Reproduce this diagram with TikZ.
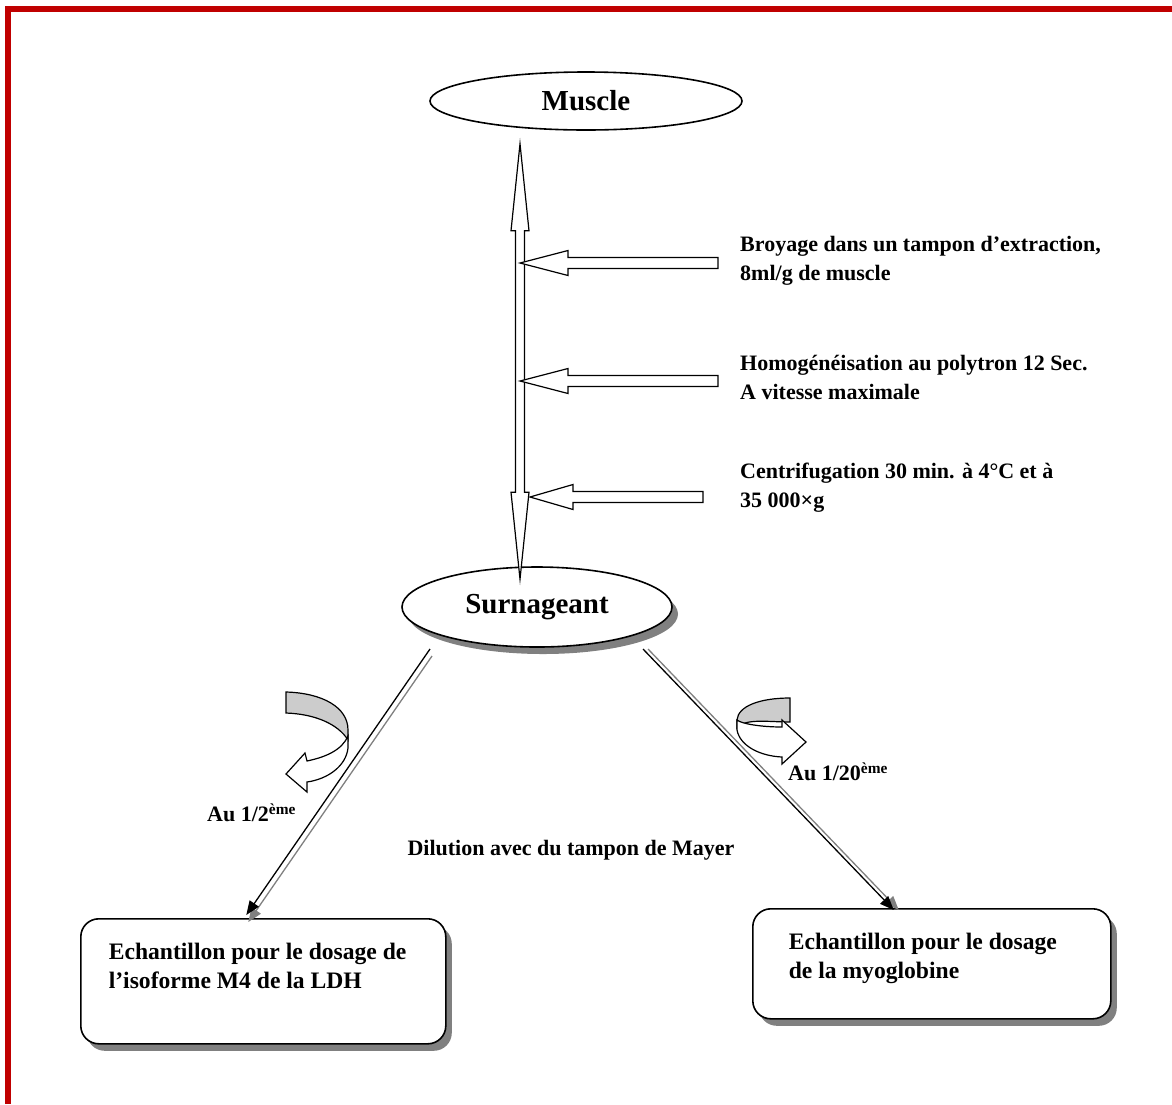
\documentclass[tikz,border=0pt]{standalone}
\usepackage{fontspec}
\setmainfont{Liberation Serif}
\usetikzlibrary{shapes.geometric,shadows,calc,arrows.meta}
\definecolor{myframered}{RGB}{192,0,0}
\definecolor{myshadowgray}{RGB}{128,128,128}
\definecolor{mybandgray}{RGB}{204,204,204}
\newcommand{\stepfont}{\fontsize{22}{29}\selectfont\bfseries}
\newcommand{\bigfont}{\fontsize{29}{34}\selectfont\bfseries}
\newcommand{\boxfont}{\fontsize{23.6}{29}\selectfont\bfseries}
% width, height, first line, second line
\newcommand{\sampletext}[4]{\parbox[c][#2][t]{#1}{\mbox{#3}\\\mbox{#4}}}
% tail, tip, half shaft, half head, head length
\newcommand{\blockarrow}[5]{
    \coordinate (ba) at ($(#2)!#5!(#1)$);
    \draw[hollow] ($(#1)!#3!90:(#2)$) -- ($(ba)!#3!-90:(#1)$) -- ($(ba)!#4!-90:(#1)$) -- (#2)
        -- ($(ba)!#4!90:(#1)$) -- ($(ba)!#3!90:(#1)$) -- ($(#1)!#3!-90:(#2)$) -- cycle;
}
% tip one, tip two, half shaft, half head, head length
\newcommand{\dblblockarrow}[5]{
    \coordinate (bb1) at ($(#1)!#5!(#2)$);
    \coordinate (bb2) at ($(#2)!#5!(#1)$);
    \draw[hollow] (#1) -- ($(bb1)!#4!90:(#2)$) -- ($(bb1)!#3!90:(#2)$) -- ($(bb2)!#3!-90:(#1)$)
        -- ($(bb2)!#4!-90:(#1)$) -- (#2) -- ($(bb2)!#4!90:(#1)$) -- ($(bb2)!#3!90:(#1)$)
        -- ($(bb1)!#3!-90:(#2)$) -- ($(bb1)!#4!-90:(#2)$) -- cycle;
}
\tikzset{
    common/.style={draw, line width=1.6pt, fill=white},
    oval/.style={common, ellipse, inner sep=0pt, font=\bigfont},
    sample/.style={common, rounded corners=18pt, anchor=north west, font=\boxfont, inner ysep=24pt},
    shadowed/.style={drop shadow={shadow xshift=6pt, shadow yshift=-7pt, fill=myshadowgray, opacity=1}},
    steptext/.style={anchor=north west, align=left, inner sep=0pt, font=\stepfont},
    plaintext/.style={inner sep=0pt, font=\stepfont},
    hollow/.style={draw, line width=1.2pt, fill=white, line join=miter},
    link/.style={line width=1.3pt, -{Triangle[length=14pt, width=11pt]}}
}

\begin{document}
\begin{tikzpicture}[x=1pt, y=-1pt]
    \useasboundingbox (0,0) rectangle (1172,1104);
    % frame
    \fill[myframered] (5,6) rectangle (1172,12);
    \fill[myframered] (5,6) rectangle (11,1104);

    \node[oval, minimum width=312pt, minimum height=58pt] (muscle) at (586,101) {Muscle};
    \node[oval, shadowed, minimum width=270pt, minimum height=80pt] (surnageant) at (537,607) {Surnageant};

    \node[steptext] (broyage) at (740,236) {Broyage dans un tampon d'extraction,\\8ml/g de muscle};
    \node[steptext] (polytron) at (740,355) {Homogénéisation au polytron 12 Sec.\\A vitesse maximale};
    \node[steptext] (centri) at (740,463) {Centrifugation 30 min. à 4°C et à\\35 000×g};

    \node[sample, shadowed, inner xsep=28pt] (ldh) at (80,918)
        {\sampletext{309pt}{77pt}{Echantillon pour le dosage de}{l'isoforme M4 de la LDH}};
    \node[sample, shadowed, inner xsep=36pt] (myo) at (752,908)
        {\sampletext{286pt}{62pt}{Echantillon pour le dosage}{de la myoglobine}};

    \node[plaintext, anchor=west] (half) at (207,813) {Au 1/2\textsuperscript{ème}};
    \node[plaintext, anchor=west] (twentieth) at (788,772) {Au 1/20\textsuperscript{ème}};
    \node[plaintext] (dilution) at (571,850) {Dilution avec du tampon de Mayer};

    % main axis
    \coordinate (axtop) at ($(muscle.south)+(-66,13)$);
    \coordinate (axbot) at ($(surnageant.north)+(-17,13)$);
    \dblblockarrow{axtop}{axbot}{4.5pt}{9pt}{87pt}

    \coordinate (hitA) at (axtop |- 0,263);
    \coordinate (hitB) at (axtop |- 0,381);
    \coordinate (hitC) at ($(axtop |- 0,497)+(10,0)$);
    \blockarrow{$(broyage.west |- hitA)+(-22,0)$}{hitA}{5.5pt}{12.5pt}{48pt}
    \blockarrow{$(polytron.west |- hitB)+(-22,0)$}{hitB}{5.5pt}{12.5pt}{48pt}
    \blockarrow{$(centri.west |- hitC)+(-37,0)$}{hitC}{5.5pt}{12.5pt}{43pt}

    % branches
    \draw[link, myshadowgray, transform canvas={shift={(2pt,-7pt)}}]
        ($(surnageant)+(-107,42)$) -- ($(ldh.north)+(-17,-3)$);
    \draw[link] ($(surnageant)+(-107,42)$) -- ($(ldh.north)+(-17,-3)$);
    \draw[link, myshadowgray, transform canvas={shift={(5pt,0pt)}}]
        ($(surnageant)+(106,42)$) -- ($(myo.north)+(-38,2)$);
    \draw[link] ($(surnageant)+(106,42)$) -- ($(myo.north)+(-38,2)$);

    % turning arrows
    \draw[hollow, fill=mybandgray] (286,692) .. controls (322,693) and (348,707) .. (348,730)
        -- (348,740) .. controls (338,724) and (315,714) .. (286,713) -- cycle;
    \draw[hollow] (348,736) -- (348,748) .. controls (346,766) and (328,779) .. (307,782)
        -- (307,792) -- (286,774) -- (305,753) -- (307,761)
        .. controls (326,757) and (342,750) .. (348,736) -- cycle;
    \draw[hollow, fill=mybandgray] (790,698) .. controls (760,698) and (738,706) .. (737,720)
        -- (737,728) .. controls (745,718) and (768,722) .. (790,722) -- cycle;
    \draw[hollow] (737,720) -- (737,730) .. controls (740,746) and (760,756) .. (782,757)
        -- (782,764) -- (806,742) -- (782,720) -- (782,727)
        .. controls (762,727) and (742,724) .. (737,720) -- cycle;
\end{tikzpicture}
\end{document}
